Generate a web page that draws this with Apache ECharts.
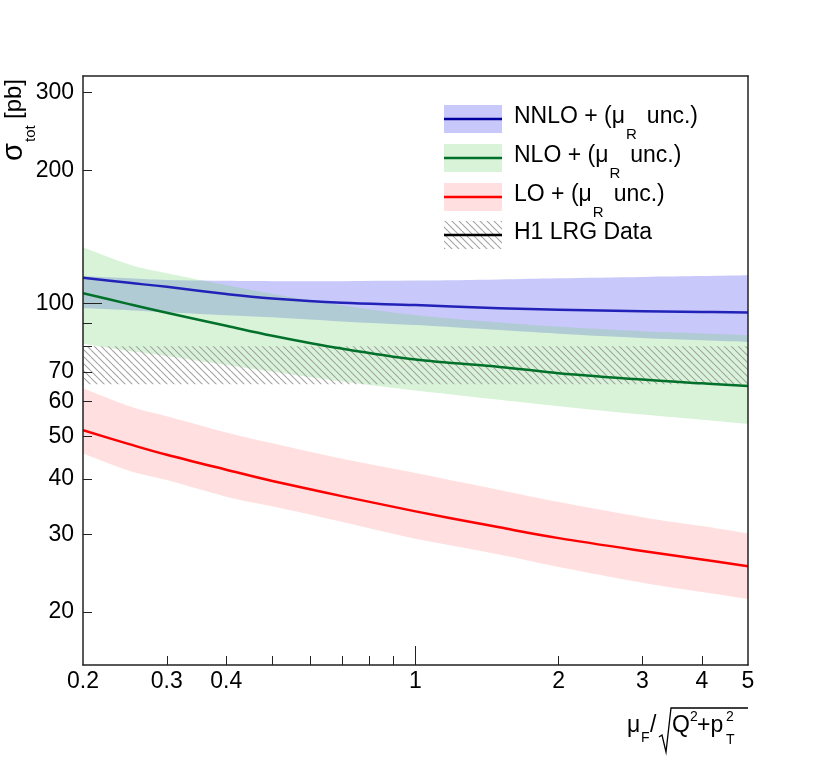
<!DOCTYPE html>
<html>
<head>
<meta charset="utf-8">
<script src="https://cdn.jsdelivr.net/npm/echarts@6/dist/echarts.min.js"></script>
<style>
  html, body { margin: 0; padding: 0; background: #fff; }
  #main { width: 830px; height: 773px; }
</style>
</head>
<body>
<div id="main"></div>
<script>
// values
var muF        = [0.2, 0.25, 0.3, 0.4, 0.5, 0.7, 1, 1.5, 2, 3, 4, 5];
var nnloCentral = [114.3, 111.3, 109, 105, 102.6, 100.3, 99.1, 97.5, 96.7, 96.0, 95.6, 95.4];
var nnloUp      = [115.2, 114, 113, 112.5, 112.3, 112.3, 112.6, 113.3, 114, 114.8, 115.3, 115.8];
var nnloDown    = [97.5, 96.5, 95.5, 94, 93, 91, 89.3, 87, 85.4, 83.5, 82.5, 81.8];
var nloCentral  = [105.5, 99.6, 95.2, 89, 84.5, 79, 74.6, 71.8, 69.5, 67.2, 65.9, 65];
var nloUp       = [134, 122.5, 117, 110, 105, 99, 94, 90.5, 88.5, 86.5, 85.5, 84.7];
var nloDown     = [81, 78, 76, 72.5, 70, 66.5, 63.5, 60.5, 58.5, 56, 54.5, 53.3];
var loCentral   = [51.6, 48, 45.4, 42, 39.6, 36.6, 33.8, 31.1, 29.4, 27.5, 26.3, 25.4];
var loUp        = [64.2, 58.5, 55.5, 51, 48.2, 44.5, 41.3, 37.8, 35.5, 32.8, 31.3, 30.1];
var loDown      = [45.7, 41.8, 39.8, 36.5, 34.7, 32, 29.3, 27, 25.3, 23.3, 22.2, 21.4];
var h1Range     = [65.6, 80];

var xTicks = [0.3, 0.4, 0.5, 0.6, 0.7, 0.8, 0.9, 2, 3, 4];
var xLongTicks = [1];
var xLabels = [0.2, 0.3, 0.4, 1, 2, 3, 4, 5];
var yTicks = [20, 30, 40, 50, 60, 70, 80, 90, 200, 300];
var yLongTicks = [100];
var yLabels = [20, 30, 40, 50, 60, 70, 100, 200, 300];
var xRange = [0.2, 5];
var yRange = [15.17, 327.3];

var FONT = '"Liberation Sans", Arial, Helvetica, sans-serif';
var lg = Math.log10;

// hatch pattern for the data band
function hatch() {
    var c = document.createElement('canvas');
    c.width = 7; c.height = 7;
    var g = c.getContext('2d');
    g.strokeStyle = '#a2a2a2';
    g.lineWidth = 1.1;
    [-7, 0, 7].forEach(function (o) {
        g.beginPath();
        g.moveTo(o, 0);
        g.lineTo(o + 7, 7);
        g.stroke();
    });
    return { image: c, repeat: 'repeat' };
}
var blueFill = '#c8c8fa';
var greenFill = 'rgba(110,210,110,0.27)';
var redFill = 'rgba(255,120,120,0.24)';
var hatchFill = hatch();
var blueLine = '#2222b8', greenLine = '#00702a', redLine = '#ff0000';

var lx = muF.map(lg);

// smooth curve through pixel points (catmull-rom as cubic beziers)
function curve(pts, first) {
    var d = (first ? 'M' : 'L') + pts[0][0] + ',' + pts[0][1];
    var n = pts.length;
    for (var i = 0; i < n - 1; i++) {
        var p0 = pts[Math.max(i - 1, 0)], p1 = pts[i], p2 = pts[i + 1], p3 = pts[Math.min(i + 2, n - 1)];
        var c1x = p1[0] + (p2[0] - p0[0]) / 6, c1y = p1[1] + (p2[1] - p0[1]) / 6;
        var c2x = p2[0] - (p3[0] - p1[0]) / 6, c2y = p2[1] - (p3[1] - p1[1]) / 6;
        d += ' C' + c1x + ',' + c1y + ' ' + c2x + ',' + c2y + ' ' + p2[0] + ',' + p2[1];
    }
    return d;
}
function toPixels(api, xs, vals) {
    return xs.map(function (x, i) { return api.coord([x, lg(vals[i])]); });
}

function bandSeries(xs, lo, hi, fill, smooth) {
    return {
        type: 'custom', silent: true, clip: true,
        data: [[xs[0], lg(lo[0])]],
        renderItem: function (params, api) {
            var up = toPixels(api, xs, hi);
            var dn = toPixels(api, xs, lo).reverse();
            var d;
            if (smooth) {
                d = curve(up, true) + ' ' + curve(dn, false) + ' Z';
            } else {
                d = 'M' + up.concat(dn).map(function (p) { return p[0] + ',' + p[1]; }).join(' L') + ' Z';
            }
            return { type: 'path', shape: { pathData: d }, style: { fill: fill, stroke: null } };
        }
    };
}
function centralSeries(vals, color) {
    return {
        type: 'custom', silent: true, clip: true,
        data: [[lx[0], lg(vals[0])]],
        renderItem: function (params, api) {
            return {
                type: 'path', shape: { pathData: curve(toPixels(api, lx, vals), true) },
                style: { fill: 'none', stroke: color, lineWidth: 2.5 }
            };
        }
    };
}
var h1x = [lg(xRange[0]), lg(xRange[1])];

var series = [
    bandSeries(lx, nnloDown, nnloUp, blueFill, true),
    bandSeries(lx, nloDown, nloUp, greenFill, true),
    bandSeries(h1x, [h1Range[0], h1Range[0]], [h1Range[1], h1Range[1]], hatchFill, false),
    bandSeries(lx, loDown, loUp, redFill, true),
    centralSeries(nloCentral, greenLine),
    centralSeries(loCentral, redLine),
    centralSeries(nnloCentral, blueLine)
];

function fmt(v) {
    var n = Math.pow(10, v);
    return n < 1 ? n.toFixed(1) : String(Math.round(n));
}
var axisColor = '#222';
function baseAxis(range, extra) {
    var a = {
        type: 'value', min: lg(range[0]), max: lg(range[1]), z: 10,
        splitLine: { show: false },
        axisLine: { show: false, onZero: false },
        axisTick: { show: false },
        axisLabel: { show: false }
    };
    return Object.assign(a, extra);
}
function frameLine() {
    return { show: true, onZero: false, lineStyle: { color: axisColor, width: 1.5 } };
}
function ticks(vals, len) {
    return { show: true, inside: true, length: len, customValues: vals.map(lg),
             lineStyle: { color: axisColor, width: 1 } };
}

var xAxis = [
    baseAxis(xRange, {
        position: 'bottom', axisLine: frameLine(), axisTick: ticks(xTicks, 9),
        axisLabel: { show: true, customValues: xLabels.map(lg), formatter: fmt, margin: 5,
                     color: '#000', fontSize: 23, fontFamily: FONT }
    }),
    baseAxis(xRange, { position: 'bottom', axisTick: ticks(xLongTicks, 19) }),
    baseAxis(xRange, { position: 'top', axisLine: frameLine() })
];
var yAxis = [
    baseAxis(yRange, {
        position: 'left', axisLine: frameLine(), axisTick: ticks(yTicks, 9),
        axisLabel: { show: true, customValues: yLabels.map(lg), formatter: fmt, margin: 9,
                     color: '#000', fontSize: 23, fontFamily: FONT }
    }),
    baseAxis(yRange, { position: 'left', axisTick: ticks(yLongTicks, 19) }),
    baseAxis(yRange, { position: 'right', axisLine: frameLine() })
];

// legend, axis titles
var measure = document.createElement('canvas').getContext('2d');
function textWidth(t, size) {
    measure.font = size + 'px ' + FONT;
    return measure.measureText(t).width;
}
function txt(x, y, t, size, align) {
    return {
        type: 'text', x: x, y: y, z: 100,
        style: {
            text: t, fill: '#000', font: size + 'px ' + FONT,
            align: align || 'left', verticalAlign: 'middle',
            textAlign: align || 'left', textVerticalAlign: 'middle'
        }
    };
}

var legendRows = [
    { name: 'NNLO + (μ', sub: 'R', tail: 'unc.)', fill: blueFill, line: '#0000a0' },
    { name: 'NLO + (μ', sub: 'R', tail: 'unc.)', fill: greenFill, line: greenLine },
    { name: 'LO + (μ', sub: 'R', tail: 'unc.)', fill: redFill, line: redLine },
    { name: 'H1 LRG Data', sub: '', tail: '', fill: hatchFill, line: '#000' }
];
var legendY = [119, 158, 197, 235];
var graphic = [];
legendRows.forEach(function (r, i) {
    var cy = legendY[i];
    graphic.push({ type: 'rect', z: 100, shape: { x: 444, y: cy - 14, width: 58, height: 28 },
                   style: { fill: r.fill } });
    graphic.push({ type: 'line', z: 101, shape: { x1: 444, y1: cy, x2: 502, y2: cy },
                   style: { stroke: r.line, lineWidth: 2.5 } });
    var x = 514;
    graphic.push(txt(x, cy - 2, r.name, 23));
    if (r.sub) {
        x += textWidth(r.name, 23) + 1;
        graphic.push(txt(x, cy + 16, r.sub, 15));
        x += textWidth(r.sub, 15) + 10;
        graphic.push(txt(x, cy - 2, r.tail, 23));
    }
});

// y title: sigma_tot [pb], rotated
graphic.push({
    type: 'group', x: 22, y: 161, rotation: Math.PI / 2, z: 100,
    children: [
        txt(0, -8, 'σ', 29),
        txt(19, 9, 'tot', 15),
        txt(42, -8, '[pb]', 24)
    ]
});

// x title: mu_F / sqrt(Q^2 + p_T^2)
var tb = 726;
graphic.push(txt(627, tb, 'μ', 23));
graphic.push(txt(641, tb + 12, 'F', 14));
graphic.push(txt(650, tb, '/', 23));
graphic.push({ type: 'polyline', z: 100,
    shape: { points: [[659, 737], [662, 735], [666, 752], [671, 708], [748, 708]] },
    style: { stroke: '#000', lineWidth: 1.3, fill: null } });
graphic.push(txt(672, tb, 'Q', 23));
graphic.push(txt(690, tb - 9, '2', 14));
graphic.push(txt(697, tb, '+p', 23));
graphic.push(txt(726, tb - 9, '2', 14));
graphic.push(txt(726, tb + 14, 'T', 14));

var myChart = echarts.init(document.getElementById('main'), null, { renderer: 'canvas' });
myChart.setOption({
    animation: false,
    backgroundColor: '#fff',
    grid: { left: 83, right: 82, top: 76, bottom: 108, containLabel: false, outerBoundsMode: 'none' },
    xAxis: xAxis,
    yAxis: yAxis,
    series: series,
    graphic: graphic
});
</script>
</body>
</html>
